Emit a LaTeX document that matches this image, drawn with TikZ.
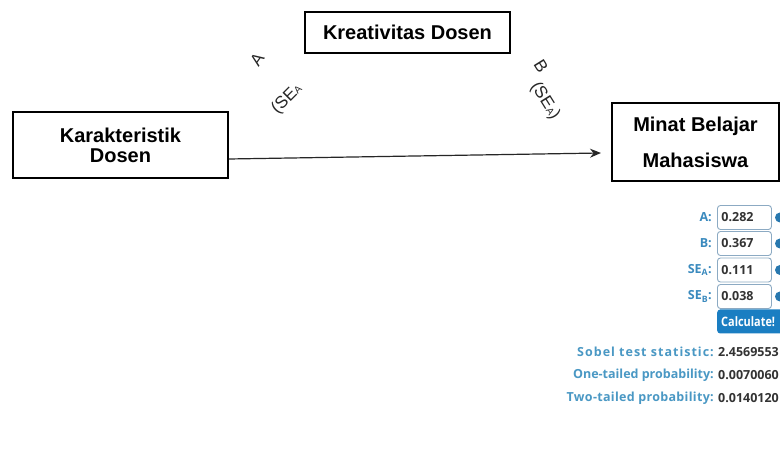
\documentclass[tikz,border=0pt]{standalone}
\usepackage{fontspec}
\setmainfont{Liberation Sans}
\newfontfamily\webfont{Open Sans}
\usetikzlibrary{arrows.meta}
\definecolor{lblblue}{RGB}{58,138,190}
\definecolor{resblue}{RGB}{74,152,196}
\definecolor{valgray}{RGB}{51,51,51}
\definecolor{btnblue}{RGB}{26,126,194}
\definecolor{inborder}{RGB}{140,170,195}
\definecolor{infoblue}{RGB}{40,120,175}
\tikzset{
  mainbox/.style={draw=black,line width=2pt,fill=white,font=\fontsize{20}{24}\selectfont\bfseries,align=center,inner sep=0pt},
  pathlbl/.style={font=\fontsize{17}{19}\selectfont,inner sep=0pt,text=black!85},
  inbox/.style={draw=inborder,line width=0.9pt,rounded corners=3pt,minimum width=54pt,minimum height=24pt,anchor=west,inner sep=0pt,text width=46pt,align=left,font=\webfont\fontsize{12.5}{14}\selectfont\bfseries,text=valgray},
  inlbl/.style={anchor=east,inner sep=0pt,font=\webfont\fontsize{12.5}{14}\selectfont\bfseries,text=lblblue},
  reslbl/.style={anchor=east,inner sep=0pt,font=\webfont\fontsize{12.5}{14}\selectfont\bfseries,text=resblue},
  resval/.style={anchor=west,inner sep=0pt,font=\webfont\fontsize{12.5}{14}\selectfont\bfseries,text=valgray},
  infodot/.style={circle,fill=infoblue,minimum size=10pt,inner sep=0pt},
  conn/.style={draw=black!85,line width=1.2pt,-{Stealth[length=11pt,width=9pt]}}
}
\begin{document}
\begin{tikzpicture}[x=1pt,y=1pt]
\fill[white] (0,0) rectangle (780,457);
\useasboundingbox (0,0) rectangle (780,457);
% main boxes
\node[mainbox,minimum width=205pt,minimum height=41pt] (c) at (407.5,424.5) {Kreativitas Dosen};
\node[mainbox,minimum width=215pt,minimum height=66pt] (k) at (120.5,312) {Karakteristik\\[-4pt]Dosen};
\node[mainbox,minimum width=167pt,minimum height=78pt] (m) at (695.5,315) {Minat Belajar\\[12pt]Mahasiswa};
% arrow
\draw[conn] ([yshift=-14pt]k.east) -- ([xshift=-10pt,yshift=-11pt]m.west);
% path labels
\node[pathlbl,rotate=55] (la) at (257,397) {A};
\node[pathlbl,rotate=45] (lsa) at (287,358) {(SE{\fontsize{10}{11}\selectfont A}};
\node[pathlbl,rotate=-58] (lb) at (541,391) {B};
\node[pathlbl,rotate=-58] (lsb) at (545,356) {(SE{\fontsize{10}{11}\selectfont A})};
% input rows
\node[inbox] (ia) at (717,239.5) {0.282};
\node[inbox] (ib) at (717,213.5) {0.367};
\node[inbox] (isa) at (717,187) {0.111};
\node[inbox] (isb) at (717,160.5) {0.038};
\node[inlbl] (la2) at ([xshift=-5pt]ia.west) {A:};
\node[inlbl] (lb2) at ([xshift=-5pt]ib.west) {B:};
\node[inlbl] (lsa2) at ([xshift=-5pt]isa.west) {SE\textsubscript{A}:};
\node[inlbl] (lsb2) at ([xshift=-5pt]isb.west) {SE\textsubscript{B}:};
\node[infodot] (da) at (780,239.5) {};
\node[infodot] (db) at (780,213.5) {};
\node[infodot] (dsa) at (780,187) {};
\node[infodot] (dsb) at (780,160.5) {};
% button
\node[fill=btnblue,rounded corners=3pt,minimum width=70pt,minimum height=24pt,anchor=west,inner sep=0pt,text width=62pt,align=left,text=white,font=\webfont\fontsize{13}{14}\selectfont\bfseries] (btn) at (717,135.5) {\addfontfeature{FakeStretch=0.84}Calculate!};
% results
\node[reslbl] (r1) at (714,105) {\addfontfeature{LetterSpace=8}Sobel test statistic:};
\node[resval] (v1) at (718,105) {2.4569553};
\node[reslbl] (r2) at (714,82) {One-tailed probability:};
\node[resval] (v2) at (718,82) {0.0070060};
\node[reslbl] (r3) at (714,59) {\addfontfeature{LetterSpace=2.5}Two-tailed probability:};
\node[resval] (v3) at (718,59) {0.0140120};
\end{tikzpicture}
\end{document}
